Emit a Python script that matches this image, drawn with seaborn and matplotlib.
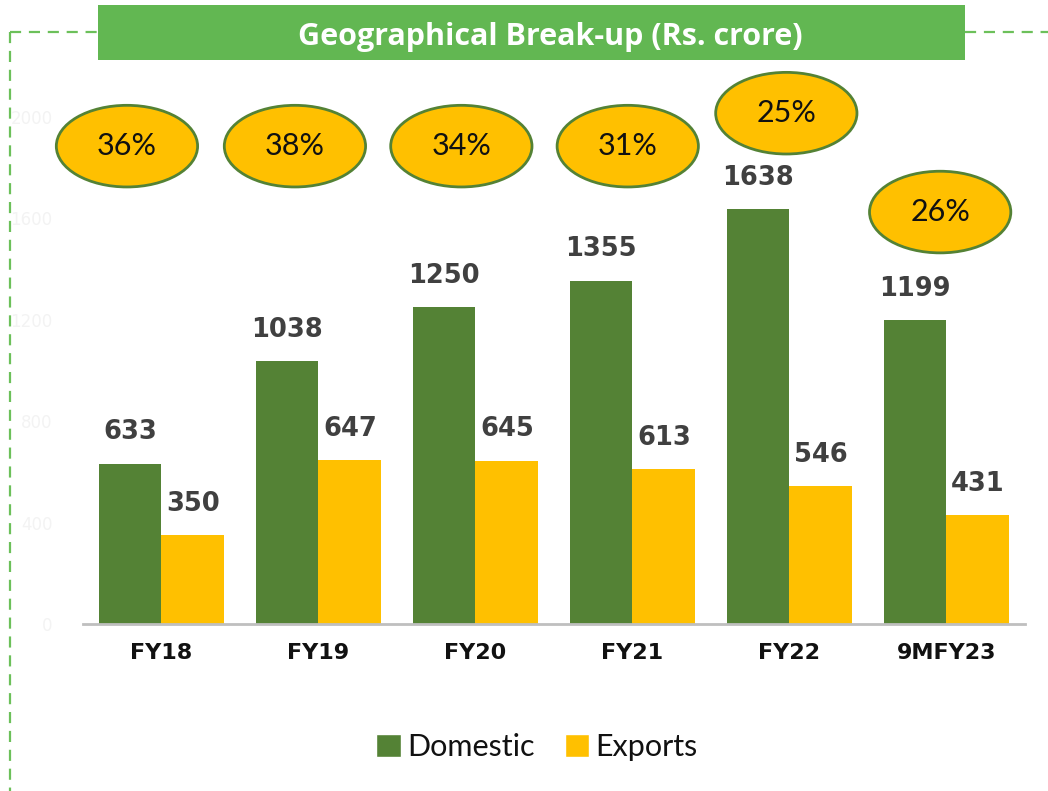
import matplotlib
matplotlib.use('Agg')
import matplotlib.pyplot as plt
from matplotlib.patches import Ellipse, Rectangle
from matplotlib.lines import Line2D
import seaborn as sns
import pandas as pd

# dati del grafico
years = ['FY18', 'FY19', 'FY20', 'FY21', 'FY22', '9MFY23']
domestic = [633, 1038, 1250, 1355, 1638, 1199]
exports = [350, 647, 645, 613, 546, 431]
export_share = ['36%', '38%', '34%', '31%', '25%', '26%']
series = ['Domestic', 'Exports']

# posizione delle ellissi (offset in categorie, altezza in valori)
ell_dx = [-0.22, -0.15, -0.09, -0.03, -0.02, -0.04]
ell_y = [1885, 1885, 1885, 1885, 2015, 1625]

green = '#548235'
yellow = '#FFC000'
banner = '#62B752'

df = pd.DataFrame({
    'year': years * 2,
    'value': domestic + exports,
    'series': [series[0]] * len(years) + [series[1]] * len(years),
})

sns.set_theme(style='white')
plt.rcParams['font.family'] = ['DejaVu Sans']

fig = plt.figure(figsize=(10.48, 7.91), dpi=100)
ax = fig.add_axes([0.0792, 0.2111, 0.8988, 0.641])

sns.barplot(data=df, x='year', y='value', hue='series', order=years,
            hue_order=series, palette=[green, yellow], width=0.8,
            saturation=1, linewidth=0, ax=ax, legend=False)

ax.set_xlim(-0.5, len(years) - 0.5)
ax.set_ylim(0, 2000)
ax.set_yticks([0, 400, 800, 1200, 1600, 2000])
ax.set_xlabel('')
ax.set_ylabel('')
for s in ['top', 'right', 'left']:
    ax.spines[s].set_visible(False)
ax.spines['bottom'].set_color('#BFBFBF')
ax.spines['bottom'].set_linewidth(2)
ax.tick_params(axis='y', length=0, pad=22, labelsize=12, labelcolor='#F3F3F3')
ax.tick_params(axis='x', length=0, pad=14)
for lab in ax.get_xticklabels():
    lab.set_fontweight('bold')
    lab.set_fontsize(16)
    lab.set_color('#111111')

# etichette sopra le barre
for cont in ax.containers:
    ax.bar_label(cont, fmt='%d', padding=13, fontsize=18.5, fontweight='bold',
                 color='#404040')

# ellissi con la quota export
for i, pct in enumerate(export_share):
    cx = i + ell_dx[i]
    e = Ellipse((cx, ell_y[i]), width=0.9, height=322, facecolor=yellow,
                edgecolor=green, linewidth=2, clip_on=False, zorder=5)
    ax.add_patch(e)
    ax.text(cx, ell_y[i], pct, ha='center', va='center', fontsize=22,
            family=['Lato', 'DejaVu Sans'], color='#111111', zorder=6,
            clip_on=False)

# cornice tratteggiata e banner del titolo
W, H = 1048, 791
dash = dict(color='#6CC05A', linewidth=1.6, linestyle=(0, (5, 3.5)))
fig.add_artist(Line2D([10 / W, 10 / W], [1 - 32 / H, 0], transform=fig.transFigure, **dash))
fig.add_artist(Line2D([10 / W, 98 / W], [1 - 32 / H, 1 - 32 / H], transform=fig.transFigure, **dash))
fig.add_artist(Line2D([965 / W, 1], [1 - 32 / H, 1 - 32 / H], transform=fig.transFigure, **dash))
fig.add_artist(Rectangle((98 / W, 1 - 60 / H), 867 / W, 55 / H, transform=fig.transFigure,
                         facecolor=banner, edgecolor='none'))
fig.text(550 / W, 1 - 37 / H, 'Geographical Break-up (Rs. crore)', ha='center', va='center',
         fontsize=22, fontweight='bold', color='white', family=['Open Sans', 'DejaVu Sans'])

# legenda
handles = [Rectangle((0, 0), 1, 1, facecolor=green), Rectangle((0, 0), 1, 1, facecolor=yellow)]
fig.legend(handles, series, loc='center', bbox_to_anchor=(537 / W, 1 - 747 / H), ncol=2,
           frameon=False, handlelength=0.8, handleheight=0.8, handletextpad=0.2,
           columnspacing=1.0, labelcolor='#111111',
           prop={'family': ['Lato', 'DejaVu Sans'], 'size': 22})

plt.savefig('out.png', dpi=100)
